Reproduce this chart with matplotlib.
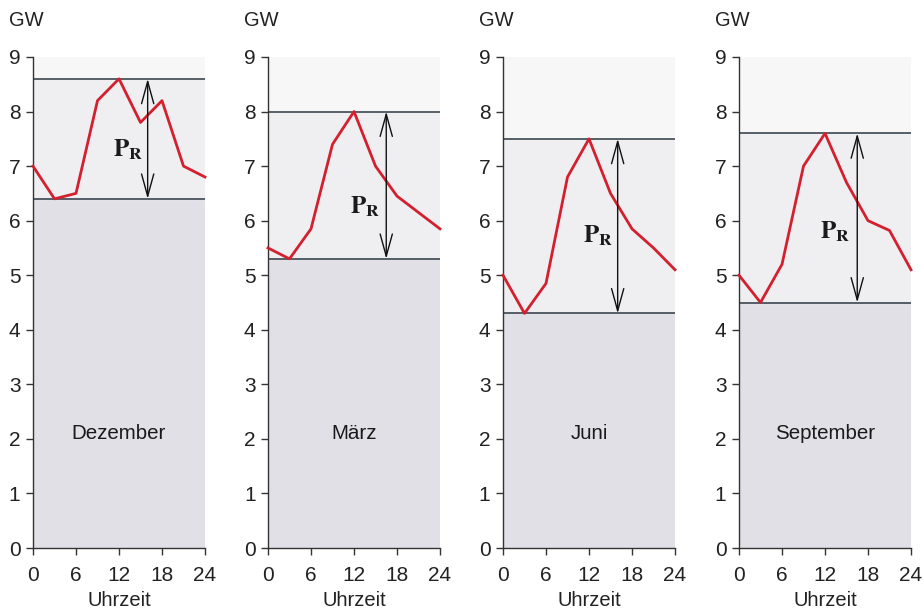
import numpy as np
import matplotlib
matplotlib.use("Agg")
import matplotlib.pyplot as plt

plt.rcParams['font.family'] = ['Liberation Sans', 'DejaVu Sans']
plt.rcParams['mathtext.fontset'] = 'stix'

hours = [0, 3, 6, 9, 12, 15, 18, 21, 24]

months = ["Dezember", "März", "Juni", "September"]
dezember = [7.0, 6.4, 6.5, 8.2, 8.6, 7.8, 8.2, 7.0, 6.8]
maerz = [5.5, 5.3, 5.85, 7.4, 8.0, 7.0, 6.45, 6.15, 5.85]
juni = [5.0, 4.3, 4.85, 6.8, 7.5, 6.5, 5.85, 5.5, 5.1]
september = [5.0, 4.5, 5.2, 7.0, 7.6, 6.7, 6.0, 5.82, 5.1]
series = [dezember, maerz, juni, september]

upper = [8.6, 8.0, 7.5, 7.6]
lower = [6.4, 5.3, 4.3, 4.5]
arrow_x = [16, 16.5, 16, 16.5]
pr_pos = [(13.2, 7.3), (13.5, 6.25), (13.2, 5.73), (13.4, 5.79)]

x_ticks = [0, 6, 12, 18, 24]
y_ticks = list(range(10))

W, H = 924, 613
fig = plt.figure(figsize=(W / 100, H / 100), dpi=100)
fig.patch.set_facecolor('white')

lefts = [33, 268, 503, 739]
ax_w = 172
ax_top, ax_bot = 57, 548

for i in range(4):
    ax = fig.add_axes([lefts[i] / W, (H - ax_bot) / H, ax_w / W, (ax_bot - ax_top) / H])
    ax.set_xlim(0, 24)
    ax.set_ylim(0, 9)
    ax.set_facecolor('#e1e0e6')
    ax.axhspan(lower[i], upper[i], color='#efeff2', zorder=0)
    ax.axhspan(upper[i], 9, color='#f7f7f8', zorder=0)
    ax.axhline(upper[i], color='#2b3540', lw=1.1, zorder=2)
    ax.axhline(lower[i], color='#2b3540', lw=1.1, zorder=2)
    ax.plot(hours, series[i], color='#d4202e', lw=2.0, zorder=3, clip_on=False)
    ax.annotate('', xy=(arrow_x[i], upper[i]), xytext=(arrow_x[i], lower[i]),
                arrowprops=dict(arrowstyle='<->, head_length=0.8, head_width=0.22',
                                color='#111111', lw=1.0,
                                mutation_scale=20, shrinkA=0, shrinkB=0),
                zorder=4)
    ax.text(pr_pos[i][0], pr_pos[i][1], r'$\mathbf{P_R}$', fontsize=18,
            ha='center', va='center', color='#1a1a1a', zorder=5)
    ax.text(12, 2.1, months[i], fontsize=14.8, ha='center', va='center', color='#1a1a1a')

    for s in ['top', 'right']:
        ax.spines[s].set_visible(False)
    for s in ['left', 'bottom']:
        ax.spines[s].set_color('#333333')
        ax.spines[s].set_linewidth(1.0)
    ax.set_xticks(x_ticks)
    ax.set_yticks(y_ticks)
    ax.tick_params(axis='both', direction='out', length=5, width=1.0,
                   colors='#333333', labelsize=15, labelcolor='#222222')
    ax.tick_params(axis='x', pad=8)
    ax.tick_params(axis='y', pad=4)
    ax.set_xlabel('Uhrzeit', fontsize=14.5, color='#222222', labelpad=4)

    fig.text((lefts[i] - 24) / W, 1 - 20 / H, 'GW', fontsize=14.5, color='#222222',
             ha='left', va='center')

fig.savefig('out.png', dpi=100)
